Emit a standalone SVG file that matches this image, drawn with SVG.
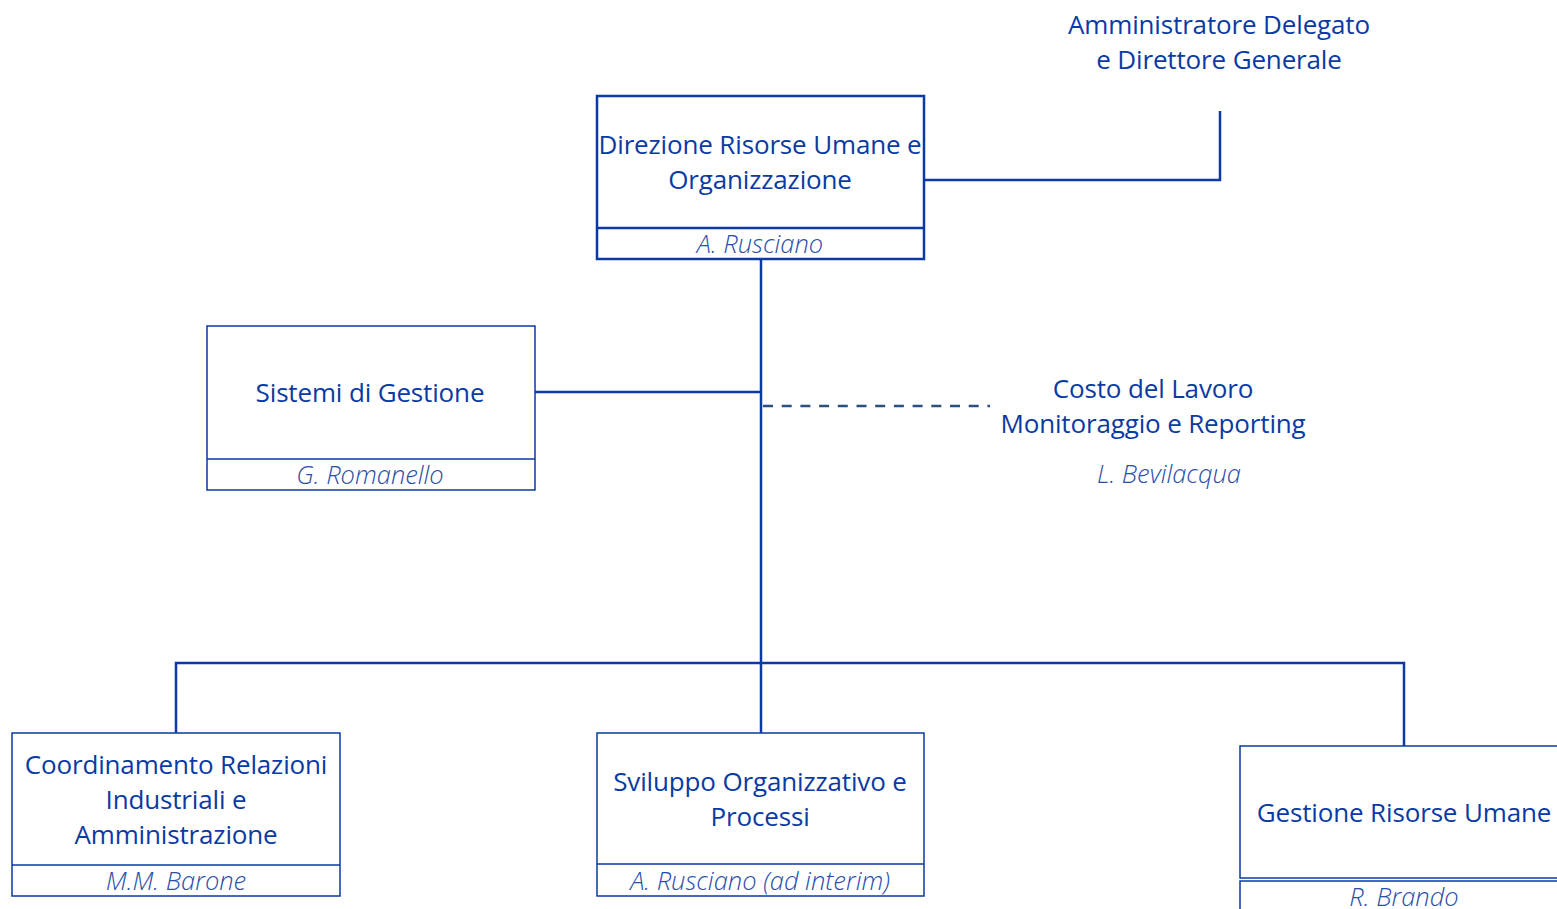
<svg xmlns="http://www.w3.org/2000/svg" width="1557" height="909" viewBox="0 0 1557 909">
<style>
.t{font-family:"Open Sans","Liberation Sans",sans-serif;font-size:26px;fill:#0a3aa3;text-anchor:middle;letter-spacing:-0.15px}
.n{font-family:"Open Sans","Liberation Sans",sans-serif;font-size:25.5px;font-style:italic;font-weight:300;fill:#2a4ea8;text-anchor:middle}
.b{fill:#fff;stroke:#0a3aa3;stroke-width:1.5}
.bt{fill:#fff;stroke:#0a3aa3;stroke-width:2.5}
.c{fill:none;stroke:#0a3aa3;stroke-width:2.5}
.d{fill:none;stroke:#2b4f7e;stroke-width:2.5;stroke-dasharray:10 8.7}
</style>
<rect width="1557" height="909" fill="#fff"/>
<g id="connectors">
<polyline class="c" points="924,180 1220,180 1220,111"/>
<line class="c" x1="761" y1="259" x2="761" y2="733"/>
<line class="c" x1="535" y1="392" x2="761" y2="392"/>
<line class="d" x1="763" y1="406" x2="990" y2="406"/>
<polyline class="c" points="176,733 176,663 1404,663 1404,746"/>
</g>
<g id="ad">
<text class="t" x="1219" y="34">Amministratore Delegato</text>
<text class="t" x="1219" y="69">e Direttore Generale</text>
</g>
<g id="direzione">
<rect class="bt" x="597" y="96" width="327" height="163"/>
<line class="c" x1="597" y1="228" x2="924" y2="228"/>
<text class="t" x="760" y="154">Direzione Risorse Umane e</text>
<text class="t" x="760" y="189">Organizzazione</text>
<text class="n" x="760" y="253">A. Rusciano</text>
</g>
<g id="sistemi">
<rect class="b" x="207" y="326" width="328" height="164"/>
<line class="b" x1="207" y1="459" x2="535" y2="459"/>
<text class="t" x="370" y="402">Sistemi di Gestione</text>
<text class="n" x="370" y="484">G. Romanello</text>
</g>
<g id="costo">
<text class="t" x="1153" y="398">Costo del Lavoro</text>
<text class="t" x="1153" y="433">Monitoraggio e Reporting</text>
<text class="n" x="1169" y="483">L. Bevilacqua</text>
</g>
<g id="coordinamento">
<rect class="b" x="12" y="733" width="328" height="163"/>
<line class="b" x1="12" y1="865" x2="340" y2="865"/>
<text class="t" x="176" y="774">Coordinamento Relazioni</text>
<text class="t" x="176" y="809">Industriali e</text>
<text class="t" x="176" y="844">Amministrazione</text>
<text class="n" x="176" y="890">M.M. Barone</text>
</g>
<g id="sviluppo">
<rect class="b" x="597" y="733" width="327" height="163"/>
<line class="b" x1="597" y1="864" x2="924" y2="864"/>
<text class="t" x="760" y="791">Sviluppo Organizzativo e</text>
<text class="t" x="760" y="826">Processi</text>
<text class="n" x="760" y="890">A. Rusciano (ad interim)</text>
</g>
<g id="gestione">
<rect class="b" x="1240" y="746" width="330" height="132"/>
<rect class="b" x="1240" y="881" width="330" height="40"/>
<text class="t" x="1404" y="822">Gestione Risorse Umane</text>
<text class="n" x="1404" y="906">R. Brando</text>
</g>
</svg>
